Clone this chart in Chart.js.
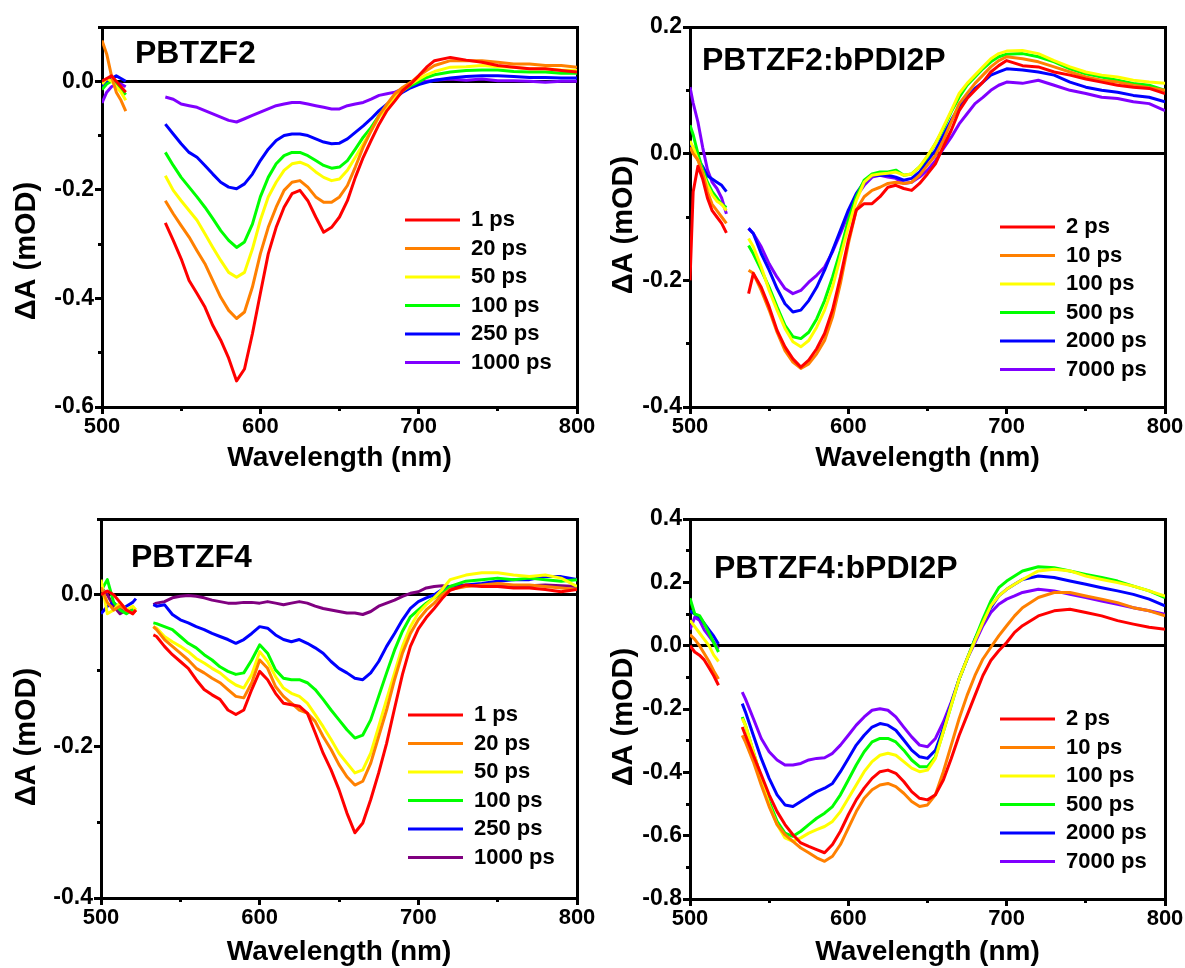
<!DOCTYPE html>
<html>
<head>
<meta charset="utf-8">
<script src="https://cdn.jsdelivr.net/npm/chart.js@4.4.0/dist/chart.umd.min.js"></script>
<style>
html,body{margin:0;padding:0;background:#fff;width:1185px;height:968px;overflow:hidden;}
canvas{position:absolute;}
</style>
</head>
<body>
<canvas id="c1" width="600" height="480" style="left:0px;top:0px;width:600px;height:480px"></canvas>
<canvas id="c2" width="593" height="480" style="left:592px;top:0px;width:593px;height:480px"></canvas>
<canvas id="c3" width="600" height="488" style="left:0px;top:480px;width:600px;height:488px"></canvas>
<canvas id="c4" width="593" height="488" style="left:592px;top:480px;width:593px;height:488px"></canvas>
<script>
// ---------------- DATA ----------------
const X_MAJOR = [500, 600, 700, 800];
const X_MINOR = [500, 550, 600, 650, 700, 750, 800];

// Panel 1: PBTZF2
const P1_LABELS = ['1 ps', '20 ps', '50 ps', '100 ps', '250 ps', '1000 ps'];
const P1_YMAJOR = [-0.6, -0.4, -0.2, 0.0];
const P1_YMINOR = [-0.6, -0.5, -0.4, -0.3, -0.2, -0.1, 0.0, 0.1];
const P1_WL = [500,503,506,509,512,515,527,
  540,545,550,555,560,565,570,575,580,585,590,595,600,605,610,615,620,625,630,635,
  640,645,650,655,660,665,670,675,680,685,690,695,700,705,710,
  720,730,740,750,760,770,780,790,800];
const P1_1PS = [0.000,0.005,0.010,0.000,-0.010,-0.020,null,
  -0.261,-0.293,-0.327,-0.367,-0.391,-0.416,-0.450,-0.477,-0.510,-0.552,
  -0.530,-0.465,-0.391,-0.318,-0.269,-0.232,-0.207,-0.201,-0.220,-0.250,
  -0.278,-0.269,-0.250,-0.220,-0.177,-0.140,-0.109,-0.079,-0.054,-0.036,
  -0.017,-0.005,0.010,0.026,0.038,
  0.044,0.039,0.035,0.029,0.026,0.023,0.023,0.020,0.017];
const P1_20PS = [0.075,0.050,0.010,-0.020,-0.035,-0.055,null,
  -0.220,-0.244,-0.266,-0.287,-0.312,-0.336,-0.367,-0.398,-0.422,-0.437,
  -0.425,-0.379,-0.318,-0.269,-0.232,-0.201,-0.186,-0.183,-0.195,-0.213,
  -0.223,-0.223,-0.213,-0.192,-0.158,-0.121,-0.091,-0.063,-0.042,-0.023,
  -0.011,-0.002,0.010,0.020,0.029,
  0.038,0.038,0.038,0.035,0.032,0.032,0.029,0.029,0.026];
const P1_50PS = [-0.005,0.005,0.000,-0.010,-0.020,-0.035,null,
  -0.174,-0.201,-0.220,-0.238,-0.256,-0.281,-0.306,-0.330,-0.352,-0.361,
  -0.352,-0.309,-0.256,-0.213,-0.186,-0.164,-0.152,-0.149,-0.155,-0.167,
  -0.177,-0.183,-0.180,-0.164,-0.140,-0.115,-0.091,-0.066,-0.048,-0.029,
  -0.017,-0.005,0.004,0.012,0.018,
  0.026,0.027,0.029,0.027,0.026,0.023,0.023,0.021,0.020];
const P1_100PS = [-0.015,-0.005,0.000,-0.005,-0.015,-0.025,null,
  -0.131,-0.155,-0.177,-0.195,-0.213,-0.232,-0.253,-0.275,-0.293,-0.306,
  -0.296,-0.263,-0.213,-0.177,-0.152,-0.137,-0.131,-0.131,-0.137,-0.146,
  -0.155,-0.160,-0.158,-0.146,-0.125,-0.103,-0.085,-0.063,-0.045,-0.029,
  -0.017,-0.008,-0.001,0.007,0.012,
  0.017,0.020,0.021,0.021,0.018,0.017,0.017,0.015,0.015];
const P1_250PS = [-0.010,0.000,0.005,0.010,0.005,0.000,null,
  -0.079,-0.097,-0.115,-0.131,-0.140,-0.155,-0.171,-0.186,-0.195,-0.198,
  -0.189,-0.171,-0.146,-0.125,-0.109,-0.100,-0.097,-0.097,-0.100,-0.106,
  -0.112,-0.115,-0.114,-0.106,-0.094,-0.082,-0.069,-0.054,-0.042,-0.031,
  -0.020,-0.012,-0.006,-0.002,0.002,
  0.006,0.009,0.010,0.010,0.009,0.007,0.007,0.006,0.006];
const P1_1000PS = [-0.040,-0.020,-0.010,-0.005,-0.005,-0.010,null,
  -0.029,-0.033,-0.042,-0.045,-0.048,-0.054,-0.060,-0.066,-0.072,-0.075,
  -0.069,-0.063,-0.057,-0.051,-0.045,-0.042,-0.039,-0.039,-0.042,-0.045,
  -0.048,-0.051,-0.051,-0.045,-0.042,-0.039,-0.033,-0.026,-0.023,-0.020,
  -0.014,-0.010,-0.005,0.000,0.002,
  0.004,0.002,0.004,0.001,0.001,0.000,-0.002,0.000,0.000];

// Panel 2: PBTZF2:bPDI2P
const P2_LABELS = ['2 ps', '10 ps', '100 ps', '500 ps', '2000 ps', '7000 ps'];
const P2_YMAJOR = [-0.4, -0.2, 0.0, 0.2];
const P2_YMINOR = [-0.4, -0.3, -0.2, -0.1, 0.0, 0.1, 0.2];
const P2_WL = [500,502,505,508,511,514,517,520,523,530,537,
  540,545,550,555,560,565,570,575,580,585,590,595,600,605,610,615,620,625,630,635,
  640,645,650,655,660,665,670,675,680,685,690,695,700,
  710,720,730,740,750,760,770,780,790,800];
const P2_2PS = [-0.200,-0.060,-0.020,-0.040,-0.070,-0.090,-0.100,-0.110,-0.125,null,-0.221,
  -0.189,-0.211,-0.242,-0.279,-0.305,-0.324,-0.337,-0.326,-0.308,-0.284,
  -0.247,-0.195,-0.137,-0.089,-0.079,-0.079,-0.068,-0.053,-0.050,-0.055,
  -0.058,-0.047,-0.032,-0.016,0.011,0.037,0.068,0.087,0.100,0.113,
  0.129,0.139,0.147,
  0.139,0.137,0.129,0.124,0.118,0.113,0.108,0.105,0.103,0.095];
const P2_10PS = [0.010,0.000,-0.010,-0.030,-0.060,-0.080,-0.090,-0.100,-0.110,null,-0.184,
  -0.189,-0.216,-0.247,-0.282,-0.311,-0.329,-0.339,-0.332,-0.316,-0.295,
  -0.258,-0.205,-0.142,-0.089,-0.068,-0.058,-0.053,-0.047,-0.045,-0.047,
  -0.045,-0.034,-0.018,-0.003,0.021,0.050,0.079,0.095,0.111,0.124,
  0.137,0.147,0.153,
  0.150,0.145,0.137,0.129,0.121,0.116,0.113,0.108,0.104,0.100];
const P2_100PS = [0.020,0.010,-0.010,-0.030,-0.050,-0.065,-0.075,-0.080,-0.090,null,-0.134,
  -0.147,-0.179,-0.216,-0.247,-0.276,-0.297,-0.305,-0.295,-0.274,-0.247,
  -0.211,-0.163,-0.116,-0.074,-0.045,-0.034,-0.032,-0.031,-0.029,-0.034,
  -0.032,-0.021,-0.003,0.016,0.042,0.068,0.095,0.111,0.124,0.137,
  0.150,0.158,0.162,
  0.163,0.158,0.147,0.137,0.129,0.124,0.121,0.116,0.113,0.111];
const P2_500PS = [0.045,0.030,0.000,-0.025,-0.045,-0.060,-0.070,-0.080,-0.085,null,-0.145,
  -0.158,-0.184,-0.211,-0.242,-0.271,-0.289,-0.292,-0.282,-0.261,-0.232,
  -0.195,-0.153,-0.105,-0.068,-0.042,-0.032,-0.029,-0.029,-0.026,-0.034,
  -0.032,-0.021,-0.005,0.016,0.039,0.066,0.089,0.108,0.121,0.134,
  0.145,0.153,0.157,
  0.158,0.153,0.145,0.134,0.126,0.121,0.116,0.111,0.108,0.100];
const P2_2000PS = [0.015,0.010,-0.010,-0.020,-0.035,-0.040,-0.045,-0.050,-0.060,null,-0.118,
  -0.126,-0.158,-0.184,-0.213,-0.237,-0.250,-0.247,-0.232,-0.211,-0.184,
  -0.153,-0.121,-0.089,-0.063,-0.045,-0.034,-0.034,-0.034,-0.037,-0.042,
  -0.039,-0.029,-0.011,0.005,0.029,0.053,0.074,0.089,0.103,0.113,
  0.124,0.129,0.134,
  0.132,0.129,0.124,0.113,0.105,0.100,0.097,0.092,0.089,0.082];
const P2_7000PS = [0.105,0.080,0.050,0.010,-0.025,-0.045,-0.055,-0.070,-0.095,null,-0.118,
  -0.126,-0.147,-0.174,-0.195,-0.213,-0.221,-0.216,-0.203,-0.192,-0.179,
  -0.155,-0.126,-0.095,-0.068,-0.050,-0.037,-0.034,-0.037,-0.039,-0.047,
  -0.045,-0.037,-0.026,-0.011,0.008,0.026,0.047,0.063,0.079,0.089,
  0.100,0.108,0.113,
  0.111,0.116,0.108,0.100,0.095,0.089,0.087,0.082,0.079,0.068];

// Panel 3: PBTZF4
const P3_LABELS = ['1 ps', '20 ps', '50 ps', '100 ps', '250 ps', '1000 ps'];
const P3_YMAJOR = [-0.4, -0.2, 0.0];
const P3_YMINOR = [-0.4, -0.3, -0.2, -0.1, 0.0, 0.1];
const P3_WL = [500,504,508,512,516,520,522,527,533,535,
  540,545,550,555,560,565,570,575,580,585,590,595,600,605,610,615,620,625,630,635,
  640,645,650,655,660,665,670,675,680,685,690,695,700,705,710,715,720,
  730,740,750,760,770,780,790,800];
const P3_1PS = [0.000,0.005,0.000,-0.010,-0.020,-0.025,-0.020,null,-0.053,-0.055,
  -0.068,-0.079,-0.088,-0.097,-0.112,-0.125,-0.132,-0.138,-0.152,-0.158,
  -0.152,-0.125,-0.101,-0.112,-0.130,-0.143,-0.145,-0.147,-0.156,-0.182,
  -0.209,-0.231,-0.257,-0.288,-0.314,-0.301,-0.270,-0.235,-0.196,-0.150,
  -0.105,-0.068,-0.045,-0.030,-0.018,-0.005,0.006,
  0.013,0.011,0.011,0.009,0.009,0.007,0.004,0.007];
const P3_20PS = [0.010,-0.010,-0.020,-0.015,-0.020,-0.025,-0.020,null,-0.042,-0.046,
  -0.059,-0.068,-0.077,-0.086,-0.097,-0.103,-0.110,-0.116,-0.125,-0.134,
  -0.136,-0.116,-0.086,-0.097,-0.121,-0.134,-0.143,-0.152,-0.156,-0.167,
  -0.187,-0.204,-0.224,-0.240,-0.251,-0.246,-0.222,-0.187,-0.152,-0.112,
  -0.077,-0.051,-0.033,-0.020,-0.011,0.000,0.007,
  0.011,0.013,0.015,0.013,0.013,0.011,0.009,0.007];
const P3_50PS = [0.020,-0.025,-0.020,-0.010,-0.020,-0.015,-0.020,null,-0.042,-0.044,
  -0.055,-0.062,-0.068,-0.075,-0.084,-0.090,-0.097,-0.103,-0.112,-0.119,
  -0.123,-0.105,-0.075,-0.088,-0.108,-0.123,-0.130,-0.134,-0.143,-0.158,
  -0.174,-0.191,-0.209,-0.222,-0.235,-0.231,-0.209,-0.174,-0.138,-0.103,
  -0.068,-0.042,-0.024,-0.013,-0.004,0.007,0.020,
  0.026,0.029,0.029,0.026,0.024,0.026,0.022,0.011];
const P3_100PS = [0.005,0.020,-0.010,-0.020,-0.025,-0.020,-0.020,null,-0.037,-0.038,
  -0.042,-0.046,-0.055,-0.064,-0.070,-0.079,-0.086,-0.095,-0.101,-0.105,
  -0.103,-0.086,-0.066,-0.077,-0.099,-0.110,-0.112,-0.112,-0.116,-0.125,
  -0.138,-0.152,-0.165,-0.178,-0.189,-0.185,-0.165,-0.134,-0.103,-0.073,
  -0.048,-0.029,-0.020,-0.011,-0.004,0.002,0.011,
  0.018,0.020,0.022,0.020,0.022,0.020,0.018,0.020];
const P3_250PS = [-0.025,-0.015,-0.010,-0.020,-0.015,-0.010,-0.005,null,-0.013,-0.015,
  -0.013,-0.026,-0.033,-0.037,-0.042,-0.046,-0.051,-0.055,-0.059,-0.064,
  -0.059,-0.051,-0.042,-0.044,-0.053,-0.059,-0.062,-0.059,-0.064,-0.070,
  -0.077,-0.088,-0.097,-0.103,-0.110,-0.112,-0.103,-0.088,-0.068,-0.051,
  -0.033,-0.018,-0.009,-0.004,0.000,0.007,0.011,
  0.013,0.015,0.018,0.020,0.020,0.024,0.024,0.020];
const P3_1000PS = [0.010,0.000,-0.015,-0.025,-0.020,-0.020,-0.020,null,-0.013,-0.011,
  -0.009,-0.004,-0.002,-0.001,-0.002,-0.004,-0.007,-0.009,-0.011,-0.011,
  -0.010,-0.010,-0.011,-0.009,-0.011,-0.013,-0.011,-0.009,-0.011,-0.015,
  -0.018,-0.020,-0.022,-0.024,-0.024,-0.026,-0.022,-0.015,-0.011,-0.007,
  -0.002,0.002,0.004,0.009,0.011,0.012,0.011,
  0.012,0.012,0.011,0.012,0.012,0.013,0.012,0.011];

// Panel 4: PBTZF4:bPDI2P
const P4_LABELS = ['2 ps', '10 ps', '100 ps', '500 ps', '2000 ps', '7000 ps'];
const P4_YMAJOR = [-0.8, -0.6, -0.4, -0.2, 0.0, 0.2, 0.4];
const P4_YMINOR = [-0.8, -0.7, -0.6, -0.5, -0.4, -0.3, -0.2, -0.1, 0.0, 0.1, 0.2, 0.3, 0.4];
const P4_WL = [500,503,506,509,512,515,518,525,533,535,
  540,545,550,555,560,565,570,575,580,585,590,595,600,605,610,615,620,625,630,635,
  640,645,650,655,660,665,670,675,680,685,690,695,700,705,710,
  720,730,740,750,760,770,780,790,800];
const P4_2PS = [0.000,-0.020,-0.030,-0.045,-0.070,-0.095,-0.125,null,-0.257,-0.283,
  -0.346,-0.408,-0.471,-0.524,-0.565,-0.597,-0.623,-0.634,-0.644,-0.654,
  -0.628,-0.586,-0.534,-0.487,-0.450,-0.419,-0.398,-0.393,-0.403,-0.429,
  -0.461,-0.482,-0.487,-0.471,-0.424,-0.356,-0.283,-0.220,-0.157,-0.094,
  -0.047,-0.016,0.010,0.042,0.063,
  0.094,0.110,0.115,0.105,0.094,0.079,0.068,0.058,0.052];
const P4_10PS = [0.035,0.020,0.000,-0.025,-0.050,-0.080,-0.105,null,-0.283,-0.304,
  -0.366,-0.440,-0.508,-0.565,-0.597,-0.618,-0.639,-0.654,-0.670,-0.681,
  -0.665,-0.628,-0.576,-0.524,-0.482,-0.455,-0.440,-0.435,-0.445,-0.466,
  -0.492,-0.508,-0.503,-0.471,-0.398,-0.314,-0.230,-0.157,-0.094,-0.042,
  -0.005,0.031,0.063,0.094,0.120,
  0.152,0.168,0.168,0.157,0.147,0.136,0.120,0.110,0.094];
const P4_100PS = [0.080,0.060,0.040,0.020,0.000,-0.030,-0.050,null,-0.230,-0.251,
  -0.335,-0.419,-0.503,-0.565,-0.607,-0.618,-0.607,-0.592,-0.581,-0.571,
  -0.555,-0.524,-0.482,-0.440,-0.398,-0.366,-0.346,-0.340,-0.346,-0.366,
  -0.387,-0.398,-0.393,-0.356,-0.272,-0.188,-0.105,-0.042,0.016,0.073,
  0.126,0.157,0.178,0.194,0.209,
  0.236,0.241,0.236,0.220,0.209,0.199,0.188,0.173,0.157];
const P4_500PS = [0.150,0.100,0.095,0.070,0.040,0.010,-0.020,null,-0.225,-0.251,
  -0.335,-0.419,-0.492,-0.555,-0.592,-0.602,-0.586,-0.565,-0.545,-0.529,
  -0.508,-0.471,-0.424,-0.377,-0.335,-0.304,-0.293,-0.293,-0.304,-0.330,
  -0.361,-0.382,-0.382,-0.351,-0.272,-0.188,-0.105,-0.042,0.021,0.084,
  0.141,0.183,0.204,0.220,0.236,
  0.249,0.246,0.236,0.225,0.215,0.204,0.188,0.173,0.152];
const P4_2000PS = [0.110,0.100,0.090,0.070,0.050,0.030,0.005,null,-0.183,-0.209,
  -0.283,-0.356,-0.419,-0.471,-0.503,-0.508,-0.492,-0.476,-0.461,-0.450,
  -0.435,-0.398,-0.356,-0.314,-0.283,-0.257,-0.246,-0.251,-0.267,-0.298,
  -0.330,-0.351,-0.356,-0.330,-0.262,-0.183,-0.105,-0.042,0.021,0.073,
  0.120,0.157,0.178,0.194,0.209,
  0.220,0.215,0.204,0.194,0.183,0.173,0.162,0.147,0.126];
const P4_7000PS = [0.050,0.090,0.080,0.050,0.030,0.010,-0.010,null,-0.147,-0.168,
  -0.230,-0.293,-0.335,-0.361,-0.377,-0.377,-0.372,-0.361,-0.356,-0.354,
  -0.340,-0.314,-0.283,-0.251,-0.225,-0.204,-0.199,-0.204,-0.225,-0.257,
  -0.288,-0.314,-0.319,-0.293,-0.241,-0.178,-0.105,-0.042,0.010,0.063,
  0.105,0.131,0.147,0.157,0.168,
  0.178,0.173,0.162,0.152,0.141,0.131,0.120,0.110,0.099];

// ---------------- STYLE ----------------
const COLORS_A = ['#ff0000', '#ff8000', '#ffff00', '#00ff00', '#0000ff', '#8000ff'];
const COLORS_B = ['#ff0000', '#ff8000', '#ffff00', '#00ff00', '#0000ff', '#800080'];
const FAMILY = '"Liberation Sans", Arial, Helvetica, sans-serif';

Chart.defaults.font.family = FAMILY;
Chart.defaults.font.weight = 'bold';
Chart.defaults.color = '#000';

function fmtY(v) { return Math.abs(v) < 1e-9 ? '0.0' : v.toFixed(1); }

const panelDecor = {
  id: 'panelDecor',
  afterLayout(chart, args, o) {
    const lg = chart.legend;
    if (!lg) return;
    lg.left = o.legendX - o.legendPad;
    lg.top = o.legendY - o.legendFont / 2 - o.legendPad;
    lg.right = chart.width;
    lg.bottom = chart.height;
  },
  afterDraw(chart, args, o) {
    const ctx = chart.ctx;
    ctx.save();
    ctx.fillStyle = '#000';
    ctx.font = 'bold 32px ' + FAMILY;
    ctx.textAlign = 'left';
    ctx.textBaseline = 'alphabetic';
    ctx.fillText(o.label, o.labelX, o.labelY);
    ctx.translate(o.titleX, o.titleY);
    ctx.rotate(-Math.PI / 2);
    ctx.font = 'bold 29px ' + FAMILY;
    ctx.textAlign = 'center';
    ctx.textBaseline = 'middle';
    ctx.fillText(o.yTitle, 0, 0);
    ctx.restore();
  }
};

function makePanel(id, p) {
  const datasets = p.values.map((vals, i) => ({
    label: p.labels[i],
    data: p.wl.map((x, k) => ({x: x, y: vals[k]})),
    borderColor: p.colors[i],
    backgroundColor: p.colors[i],
    borderWidth: 3,
    pointRadius: 0,
    pointHoverRadius: 0,
    fill: false,
    tension: 0,
    borderJoinStyle: 'round',
    spanGaps: false,
    xAxisID: 'x',
    yAxisID: 'y'
  }));
  const setTicks = arr => s => { s.ticks = arr.map(v => ({value: v})); };
  const g = p.geo;
  const xTickFont = {size: 22, weight: 'bold', lineHeight: 1};
  const yTickFont = {size: 23, weight: 'bold', lineHeight: 1};
  new Chart(document.getElementById(id), {
    type: 'line',
    data: {datasets: datasets},
    options: {
      responsive: false,
      animation: false,
      events: [],
      layout: {padding: {left: 0, top: g.top, right: g.right, bottom: 0}},
      plugins: {
        legend: {
          position: 'chartArea',
          align: 'start',
          labels: {
            usePointStyle: true,
            pointStyle: 'line',
            pointStyleWidth: 55,
            font: {size: 22, weight: 'bold', lineHeight: 1},
            color: '#000',
            padding: 6.5
          }
        },
        tooltip: {enabled: false},
        panelDecor: {
          label: p.name, labelX: g.labelX, labelY: g.labelY,
          yTitle: 'ΔA (mOD)', titleX: g.titleX, titleY: g.titleY,
          legendX: g.legendX, legendY: g.legendY, legendPad: 6.5, legendFont: 22
        }
      },
      scales: {
        xm: {
          type: 'linear', position: 'bottom', min: 500, max: 800,
          afterBuildTicks: setTicks(X_MINOR),
          ticks: {display: false},
          grid: {drawOnChartArea: false, tickLength: 4, tickColor: '#000', lineWidth: 3},
          border: {display: false},
          afterFit: s => { s.height = 0; s.paddingLeft = 0; s.paddingRight = 0; }
        },
        ym: {
          type: 'linear', position: 'left', min: p.yMin, max: p.yMax,
          afterBuildTicks: setTicks(p.yMinor),
          ticks: {display: false},
          grid: {drawOnChartArea: false, tickLength: 4, tickColor: '#000', lineWidth: 3},
          border: {display: false},
          afterFit: s => { s.width = 0; s.paddingTop = 0; s.paddingBottom = 0; }
        },
        x: {
          type: 'linear', position: 'bottom', min: 500, max: 800,
          afterBuildTicks: setTicks(X_MAJOR),
          ticks: {font: xTickFont, color: '#000', padding: 2, maxRotation: 0, autoSkip: false,
                  callback: v => String(v)},
          grid: {drawOnChartArea: false, tickLength: 7, tickColor: '#000', lineWidth: 3},
          border: {display: true, color: '#000', width: 3},
          title: {display: true, text: 'Wavelength (nm)', color: '#000',
                  font: {size: 28, weight: 'bold', lineHeight: 1},
                  padding: {top: 0, bottom: g.xtPad}},
          afterFit: s => { s.height = g.xHeight; s.paddingLeft = 0; s.paddingRight = 0; }
        },
        y: {
          type: 'linear', position: 'left', min: p.yMin, max: p.yMax,
          afterBuildTicks: setTicks(p.yMajor),
          ticks: {font: yTickFont, color: '#000', padding: 1, autoSkip: false, callback: fmtY},
          grid: {
            color: c => (c.tick && Math.abs(c.tick.value) < 1e-9) ? '#000' : 'rgba(0,0,0,0)',
            lineWidth: 3, tickLength: 7, tickColor: '#000'
          },
          border: {display: true, color: '#000', width: 3},
          afterFit: s => { s.width = g.yWidth; s.paddingTop = 0; s.paddingBottom = 0; }
        },
        xt: {
          type: 'linear', position: 'top', min: 500, max: 800,
          ticks: {display: false},
          grid: {drawOnChartArea: false, drawTicks: false, lineWidth: 3},
          border: {display: true, color: '#000', width: 3},
          afterFit: s => { s.height = 0; s.paddingLeft = 0; s.paddingRight = 0; }
        },
        yr: {
          type: 'linear', position: 'right', min: p.yMin, max: p.yMax,
          ticks: {display: false},
          grid: {drawOnChartArea: false, drawTicks: false, lineWidth: 3},
          border: {display: true, color: '#000', width: 3},
          afterFit: s => { s.width = 0; s.paddingTop = 0; s.paddingBottom = 0; }
        }
      }
    },
    plugins: [panelDecor]
  });
}

makePanel('c1', {
  name: 'PBTZF2', wl: P1_WL, labels: P1_LABELS, colors: COLORS_A,
  values: [P1_1PS, P1_20PS, P1_50PS, P1_100PS, P1_250PS, P1_1000PS],
  yMin: -0.6, yMax: 0.1, yMajor: P1_YMAJOR, yMinor: P1_YMINOR,
  geo: {top: 27, right: 23, yWidth: 102, xHeight: 73, xtPad: 7.5,
        labelX: 135, labelY: 63, titleX: 27, titleY: 251, legendX: 405, legendY: 220}
});
makePanel('c2', {
  name: 'PBTZF2:bPDI2P', wl: P2_WL, labels: P2_LABELS, colors: COLORS_A,
  values: [P2_2PS, P2_10PS, P2_100PS, P2_500PS, P2_2000PS, P2_7000PS],
  yMin: -0.4, yMax: 0.2, yMajor: P2_YMAJOR, yMinor: P2_YMINOR,
  geo: {top: 27, right: 20, yWidth: 98, xHeight: 73, xtPad: 7.5,
        labelX: 110, labelY: 70, titleX: 31.5, titleY: 225, legendX: 408, legendY: 227}
});
makePanel('c3', {
  name: 'PBTZF4', wl: P3_WL, labels: P3_LABELS, colors: COLORS_B,
  values: [P3_1PS, P3_20PS, P3_50PS, P3_100PS, P3_250PS, P3_1000PS],
  yMin: -0.4, yMax: 0.1, yMajor: P3_YMAJOR, yMinor: P3_YMINOR,
  geo: {top: 39, right: 23, yWidth: 101, xHeight: 70, xtPad: 2,
        labelX: 131, labelY: 87, titleX: 27, titleY: 257, legendX: 408, legendY: 235}
});
makePanel('c4', {
  name: 'PBTZF4:bPDI2P', wl: P4_WL, labels: P4_LABELS, colors: COLORS_A,
  values: [P4_2PS, P4_10PS, P4_100PS, P4_500PS, P4_2000PS, P4_7000PS],
  yMin: -0.8, yMax: 0.4, yMajor: P4_YMAJOR, yMinor: P4_YMINOR,
  geo: {top: 39, right: 20, yWidth: 98, xHeight: 69, xtPad: 2,
        labelX: 122, labelY: 98, titleX: 32, titleY: 237, legendX: 408, legendY: 239}
});
</script>
</body>
</html>
